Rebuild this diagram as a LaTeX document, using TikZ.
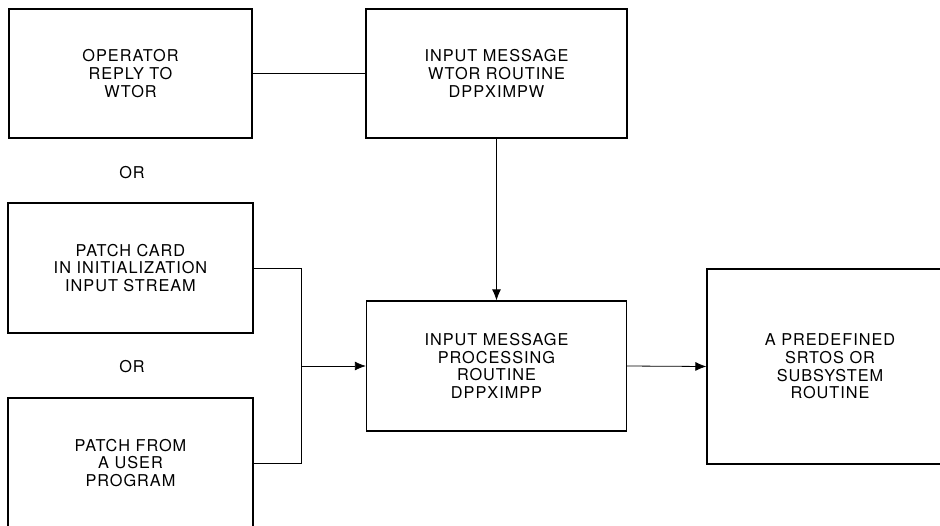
\documentclass[tikz,border=0pt]{standalone}
\usepackage{fontspec}
\usetikzlibrary{arrows.meta}
\newfontfamily\hvfont{TeX Gyre Heros}[LetterSpace=6]
\tikzset{
  blockbox/.style={draw, line width=1.3pt, rectangle, inner sep=0pt, align=center,
    font=\hvfont\fontsize{16.3}{17.7}\selectfont},
  conn/.style={line width=0.8pt},
  arr/.style={conn, -{Latex[length=11pt,width=9pt]}},
  orlabel/.style={inner sep=0pt, font=\hvfont\fontsize{16.3}{17.7}\selectfont}
}
\begin{document}
\begin{tikzpicture}[x=1pt,y=-1pt]
\useasboundingbox (0,0) rectangle (940,525);
\clip (0,0) rectangle (940,525);
\node[blockbox, minimum width=243pt, minimum height=129pt] (op) at (130.5,73.5) {OPERATOR\\REPLY TO\\WTOR};
\node[blockbox, minimum width=261pt, minimum height=129pt] (wtor) at (496.5,73.5) {INPUT MESSAGE\\WTOR ROUTINE\\DPPXIMPW};
\node[blockbox, minimum width=245pt, minimum height=130pt] (card) at (130.5,268) {PATCH CARD\\IN INITIALIZATION\\INPUT STREAM};
\node[blockbox, minimum width=245pt, minimum height=130pt] (user) at (130.5,463) {PATCH FROM\\A USER\\PROGRAM};
\node[blockbox, minimum width=260pt, minimum height=130pt] (proc) at (496.5,366) {INPUT MESSAGE\\PROCESSING\\ROUTINE\\DPPXIMPP};
\node[blockbox, minimum width=246pt, minimum height=195pt] (pre) at (830,366.5) {A PREDEFINED\\SRTOS OR\\SUBSYSTEM\\ROUTINE};
\node[orlabel] (or1) at (132,173) {OR};
\node[orlabel] (or2) at (132,367) {OR};
\coordinate (join) at (301.5,366);
\draw[conn] (op.east) -- (wtor.west);
\draw[arr] (wtor.south) -- (proc.north);
\draw[conn] (card.east) -| (join) |- (user.east);
\draw[arr] (join) -- (proc.west);
\draw[arr] (proc.east) -- (pre.west);
\end{tikzpicture}
\end{document}
